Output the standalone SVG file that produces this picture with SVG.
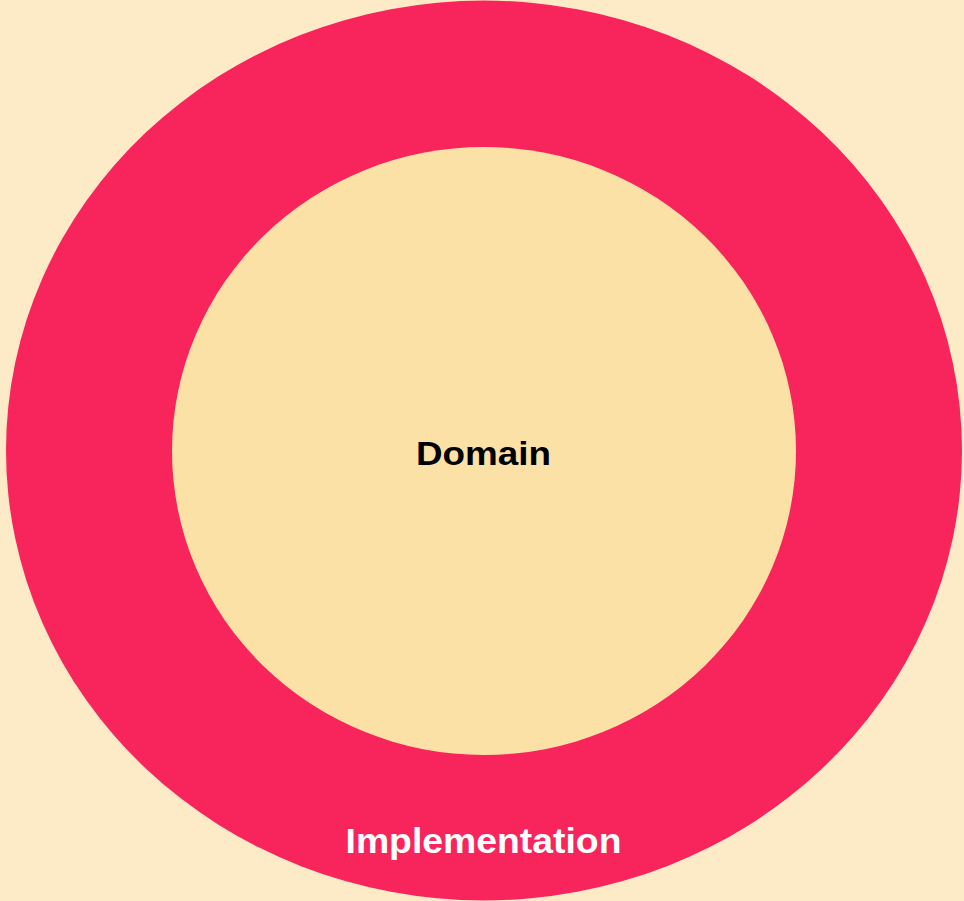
<svg xmlns="http://www.w3.org/2000/svg" width="964" height="901" viewBox="0 0 964 901">
  <style>
    .label { font-family: "Liberation Sans", Arial, sans-serif; font-weight: bold; text-anchor: middle; }
  </style>
  <rect x="0" y="0" width="964" height="901" fill="#FDEBC8"/>
  <g id="implementation">
    <ellipse cx="484" cy="450.5" rx="478" ry="450" fill="#F7255B"/>
    <text class="label" x="483.5" y="853" font-size="35" fill="#FFFFFF" textLength="276" lengthAdjust="spacingAndGlyphs">Implementation</text>
  </g>
  <g id="domain">
    <ellipse cx="484" cy="451" rx="312" ry="304" fill="#FCE1A7"/>
    <text class="label" x="483.5" y="465" font-size="34" fill="#000000" textLength="135" lengthAdjust="spacingAndGlyphs">Domain</text>
  </g>
  <g id="connectors"/>
</svg>
